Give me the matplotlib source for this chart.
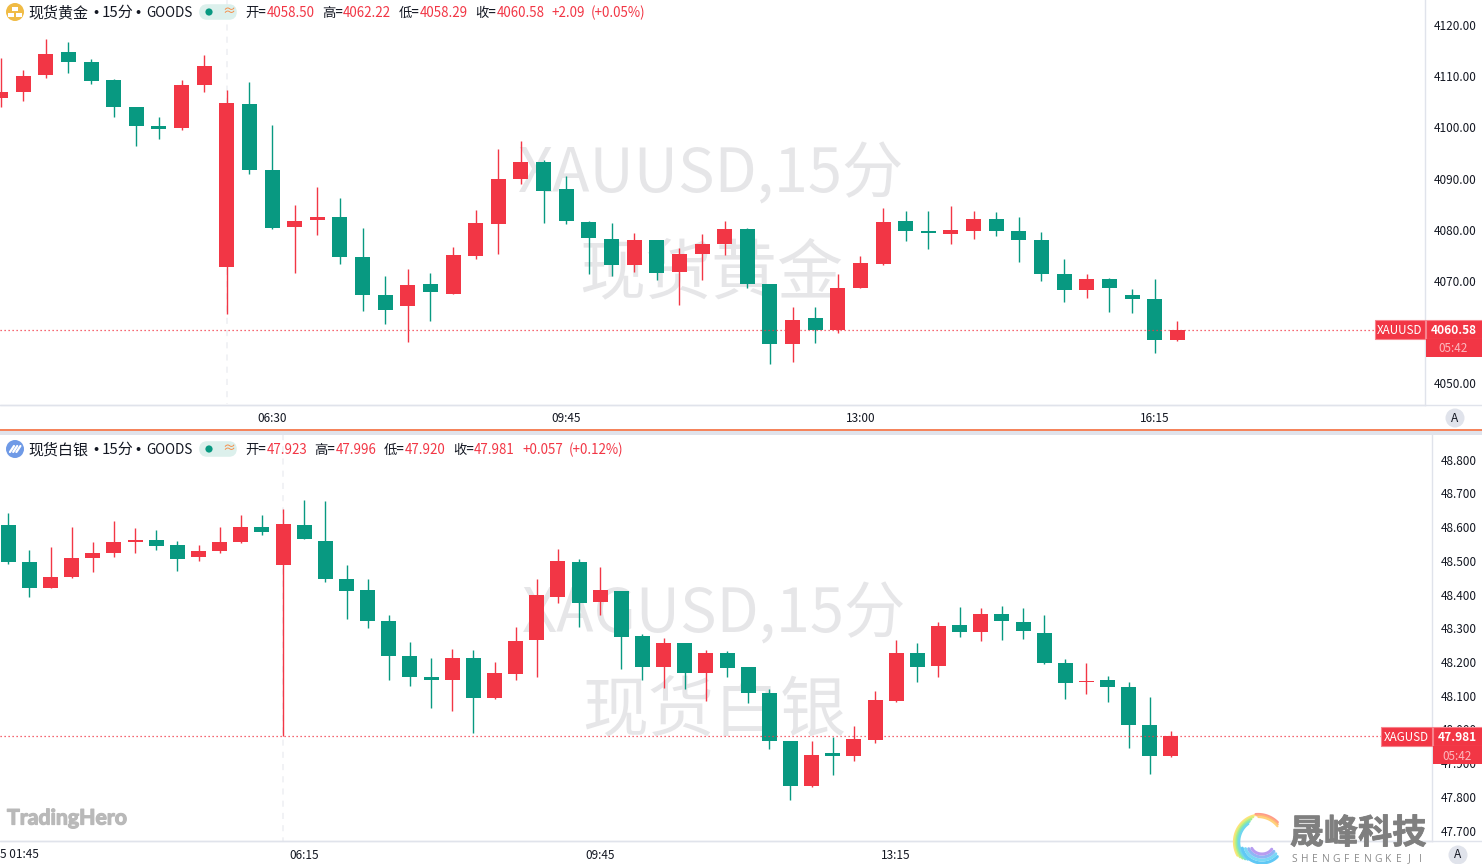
import numpy as np
import matplotlib
matplotlib.use("Agg")
import matplotlib.pyplot as plt
import matplotlib.patheffects as pe
from matplotlib.patches import Circle, FancyBboxPatch, Rectangle
from matplotlib.transforms import ScaledTranslation

plt.rcParams['font.family'] = ['Noto Sans CJK SC', 'DejaVu Sans']

gold_open = [4105.8,4107.0,4110.3,4114.8,4112.9,4109.3,4104.1,4100.4,4100.0,4108.4,4072.8,4104.7,4091.8,4080.6,
             4082.0,4082.6,4074.8,4067.4,4065.2,4069.5,4067.6,4075.0,4081.2,4090.0,4093.3,4088.1,4081.6,4078.3,
             4073.2,4078.1,4071.9,4075.4,4077.3,4080.2,4069.5,4057.8,4062.9,4060.5,4068.7,4073.4,4081.8,4079.9,
             4079.3,4079.9,4082.2,4079.9,4078.1,4071.5,4068.3,4070.5,4067.4,4066.6,4058.50]
gold_high = [4113.7,4111.3,4117.4,4116.8,4113.5,4109.5,4104.1,4102.1,4109.3,4114.2,4107.4,4109.0,4100.6,4084.9,
             4088.5,4086.3,4080.5,4071.1,4072.4,4071.7,4076.7,4084.0,4095.9,4097.4,4093.7,4090.6,4081.8,4081.4,
             4079.5,4078.1,4076.5,4079.3,4081.8,4080.5,4069.5,4065.0,4065.0,4071.5,4075.0,4084.4,4083.8,4083.8,
             4084.7,4083.8,4083.6,4082.6,4079.7,4074.4,4071.5,4070.7,4068.5,4070.5,4062.22]
gold_low = [4104.1,4105.3,4109.7,4110.7,4108.6,4102.1,4096.5,4097.8,4099.6,4107.0,4063.6,4091.0,4080.2,4071.7,
            4079.1,4073.4,4064.2,4061.7,4058.2,4062.3,4067.6,4074.4,4075.4,4089.0,4081.4,4081.2,4071.5,4071.1,
            4071.9,4070.3,4065.4,4070.3,4075.2,4068.7,4053.9,4054.3,4058.0,4059.9,4068.7,4073.2,4077.9,4076.4,
            4077.3,4078.3,4078.9,4073.8,4070.1,4066.0,4066.8,4064.0,4063.9,4056.0,4058.29]
gold_close = [4107.0,4110.1,4114.4,4112.9,4109.2,4104.1,4100.4,4099.8,4108.4,4112.1,4104.9,4091.8,4080.5,4081.8,
              4082.6,4074.8,4067.4,4064.4,4069.3,4068.0,4075.2,4081.4,4090.0,4093.3,4087.7,4081.8,4078.5,4073.2,
              4078.1,4071.7,4075.4,4077.3,4080.2,4069.5,4057.8,4062.5,4060.5,4068.7,4073.6,4081.6,4079.9,4079.5,
              4080.1,4082.2,4079.9,4078.1,4071.5,4068.3,4070.5,4068.7,4066.6,4058.6,4060.58]

silver_open = [48.607,48.498,48.421,48.453,48.509,48.524,48.557,48.563,48.548,48.512,48.530,48.557,48.601,48.489,
               48.607,48.560,48.447,48.415,48.323,48.219,48.157,48.148,48.213,48.095,48.166,48.267,48.394,48.498,
               48.379,48.412,48.278,48.186,48.258,48.169,48.228,48.186,48.109,47.967,47.834,47.932,47.923,47.970,
               48.086,48.228,48.190,48.311,48.291,48.344,48.320,48.288,48.199,48.143,48.148,48.127,48.015,47.923]
silver_high = [48.643,48.533,48.542,48.601,48.557,48.619,48.598,48.592,48.560,48.548,48.601,48.637,48.637,48.655,
               48.681,48.678,48.489,48.447,48.340,48.260,48.213,48.240,48.237,48.201,48.305,48.447,48.536,48.507,
               48.483,48.412,48.284,48.272,48.258,48.237,48.234,48.186,48.121,47.967,47.967,47.979,48.012,48.116,
               48.267,48.258,48.320,48.365,48.362,48.368,48.362,48.341,48.211,48.199,48.160,48.142,48.098,47.996]
silver_low = [48.492,48.394,48.421,48.450,48.468,48.512,48.524,48.533,48.471,48.500,48.524,48.554,48.578,47.981,
              48.566,48.438,48.329,48.302,48.148,48.130,48.065,48.056,47.991,48.092,48.148,48.157,48.376,48.305,
              48.341,48.181,48.148,48.124,48.121,48.086,48.157,48.080,47.943,47.792,47.831,47.867,47.908,47.961,
              48.083,48.142,48.157,48.276,48.264,48.267,48.270,48.196,48.092,48.107,48.083,47.947,47.870,47.920]
silver_close = [48.498,48.421,48.453,48.509,48.524,48.557,48.563,48.545,48.506,48.530,48.557,48.601,48.587,48.610,
                48.566,48.447,48.412,48.323,48.219,48.157,48.148,48.213,48.095,48.169,48.264,48.400,48.501,48.376,
                48.415,48.275,48.186,48.258,48.169,48.228,48.184,48.109,47.967,47.834,47.926,47.923,47.973,48.089,
                48.228,48.187,48.308,48.291,48.344,48.323,48.294,48.199,48.139,48.146,48.127,48.015,47.923,47.981]

gold_ticks = [4050, 4060, 4070, 4080, 4090, 4100, 4110, 4120]
gold_tick_labels = ['4050.00', '', '4070.00', '4080.00', '4090.00', '4100.00', '4110.00', '4120.00']
silver_ticks = [47.7, 47.8, 47.9, 48.0, 48.1, 48.2, 48.3, 48.4, 48.5, 48.6, 48.7, 48.8]
gold_time_index = [12, 25, 38, 51]
gold_time_labels = ['06:30', '09:45', '13:00', '16:15']
silver_time_index = [14, 28, 42]
silver_time_labels = ['06:15', '09:45', '13:15']

W, H = 1482, 864
RED, GREEN = '#f23645', '#089981'
AXC = '#e0e3eb'
TXT = '#131722'
fig = plt.figure(figsize=(W/100, H/100), dpi=100, facecolor='white')


def pane(left, right, top, bottom):
    ax = fig.add_axes([left/W, 1-bottom/H, (right-left)/W, (bottom-top)/H])
    for s in ('top', 'left'):
        ax.spines[s].set_visible(False)
    for s in ('right', 'bottom'):
        ax.spines[s].set_color(AXC)
        ax.spines[s].set_linewidth(1.0)
    ax.yaxis.tick_right()
    ax.tick_params(axis='both', length=0, labelsize=8.5, labelcolor=TXT)
    ax.tick_params(axis='y', pad=6.3)
    ax.tick_params(axis='x', pad=5.5)
    return ax


def candles(ax, o, h, l, c, width):
    o, h, l, c = map(np.array, (o, h, l, c))
    x = np.arange(len(o))
    col = np.where(c >= o, RED, GREEN)
    ax.vlines(x, l, h, colors=col, linewidth=1.0, zorder=3)
    ax.bar(x, np.abs(c-o), width, bottom=np.minimum(o, c), color=col, linewidth=0, zorder=4)


# upper pane
ax1 = pane(0, 1425, 0, 404.5)
ax1.set_xlim(-0.5/22.63, 1424.5/22.63)
ax1.set_ylim(4120-(404.5-25.5)/5.12, 4120+25.5/5.12)
candles(ax1, gold_open, gold_high, gold_low, gold_close, 15/22.63)
ax1.set_yticks(gold_ticks, gold_tick_labels)
ax1.set_xticks(gold_time_index, gold_time_labels)

# lower pane
ax2 = pane(0, 1432, 434, 841)
ax2.set_xlim(-8.3/21.14, (1432-8.3)/21.14)
ax2.set_ylim(48.8-(841-460)/337.3, 48.8+(460-434)/337.3)
candles(ax2, silver_open, silver_high, silver_low, silver_close, 15/21.14)
ax2.set_yticks(silver_ticks, [f'{v:.3f}' for v in silver_ticks])
ax2.set_xticks(silver_time_index, silver_time_labels)
up1 = ScaledTranslation(0, 0.4/100, fig.dpi_scale_trans)
for a in (ax1, ax2):
    for lb in a.get_yticklabels():
        lb.set_transform(lb.get_transform() + up1)

# pixel overlay for chart furniture
ov = fig.add_axes([0, 0, 1, 1], facecolor='none')
ov.set_xlim(0, W)
ov.set_ylim(H, 0)
ov.axis('off')

WM = '#e6e6e8'
ax1.text(711, 175, 'XAUUSD,15分', transform=ov.transData, fontsize=44.2, color=WM, ha='center', va='center', zorder=1, clip_on=False)
ax1.text(711, 275, '现货黄金', transform=ov.transData, fontsize=47.5, color=WM, ha='center', va='center', zorder=1, clip_on=False)
ax2.text(714, 615, 'XAGUSD,15分', transform=ov.transData, fontsize=44.2, color=WM, ha='center', va='center', zorder=1, clip_on=False)
ax2.text(714, 712, '现货白银', transform=ov.transData, fontsize=47.5, color=WM, ha='center', va='center', zorder=1, clip_on=False)

# crosshair dashes and last-price lines sit with the panes
ax1.vlines(227, 0, 404, transform=ov.transData, color='#eeeff2', lw=1.1, linestyles=(0, (4, 4)), zorder=2)
ax2.vlines(283, 434, 841, transform=ov.transData, color='#eeeff2', lw=1.1, linestyles=(0, (4, 4)), zorder=2)
ax1.axhline(gold_close[-1], color=RED, lw=0.9, linestyle=(0, (1, 2.2)), zorder=5)
ax2.axhline(silver_close[-1], color=RED, lw=0.9, linestyle=(0, (1, 2.2)), zorder=5)

# dividers
ov.add_patch(Rectangle((0, 431), W, 3.5, color=AXC, lw=0))
ov.add_patch(Rectangle((0, 429), W, 1.6, color='#f5845c', lw=0))
ov.hlines([404.5, 841], 0, W, color=AXC, lw=1.0)


def lab(x, y, s, col=TXT, fs=10.0, **kw):
    ov.text(x, y, s, color=col, fontsize=fs, va='center', **kw)


def header(y, icon, name, items):
    ov.add_patch(Circle((15, y), 9, color=icon, lw=0))
    ty = y + 1
    lab(28, ty, name, fs=10.8)
    lab(95.5, ty, '·', fs=10.8, fontweight='bold', ha='center')
    lab(102, ty, '15分', fs=10.8)
    lab(138, ty, '·', fs=10.8, fontweight='bold', ha='center')
    lab(146, ty, 'GOODS', fs=9.7)
    ov.add_patch(FancyBboxPatch((202, y-5), 32, 10, boxstyle='round,pad=0,rounding_size=5',
                                mutation_aspect=1, lw=4, ec='#dcf0ec', fc='#dcf0ec'))
    ov.add_patch(Circle((209, y), 3.6, color=GREEN, lw=0))
    lab(228.5, y, '≈', '#f7883f', 9.5, ha='center')
    for x, s, c in items:
        lab(x, ty, s, c, 9.6)


header(12, '#f0bb45', '现货黄金',
       [(245, '开=', TXT), (267, '4058.50', RED), (322, '高=', TXT), (343, '4062.22', RED),
        (398.5, '低=', TXT), (420, '4058.29', RED), (475.5, '收=', TXT), (496.5, '4060.58', RED),
        (551, '+2.09', RED), (591, '(+0.05%)', RED)])
header(449, '#6f9ae6', '现货白银',
       [(245, '开=', TXT), (267, '47.923', RED), (314, '高=', TXT), (335.5, '47.996', RED),
        (384, '低=', TXT), (404.5, '47.920', RED), (453, '收=', TXT), (474, '47.981', RED),
        (522, '+0.057', RED), (569, '(+0.12%)', RED)])
# icon glyphs
for cx, cy in [(15, 8.5), (11, 14.5), (19, 14.5)]:
    ov.add_patch(Rectangle((cx-3, cy-2), 6, 4, color='white', lw=0))
for k in range(3):
    ov.plot([10+k*3.2, 14+k*3.2], [452, 446], color='white', lw=1.6, solid_capstyle='round')

# price tags


def tags(y0, left, sep, name, price):
    ov.add_patch(Rectangle((left, y0), sep-left, 19, fc=RED, ec='#f7838d', lw=0.8))
    ov.add_patch(Rectangle((sep+1, y0), W-sep, 19, fc=RED, ec='#f7838d', lw=0.8))
    ov.add_patch(Rectangle((sep+1, y0+19), W-sep, 18, fc=RED, lw=0))
    lab((left+sep)/2, y0+10.5, name, 'white', 8.4, ha='center')
    lab((sep+1+W)/2-0.5, y0+10.5, price, 'white', 8.6, ha='center', fontweight='bold')
    lab((sep+1+W)/2-0.5, y0+29, '05:42', '#fbb9bf', 8.4, ha='center')


tags(320, 1375, 1425, 'XAUUSD', '4060.58')
tags(727, 1381, 1432, 'XAGUSD', '47.981')

# auto-scale buttons
for cx, cy in [(1455, 418), (1458, 855)]:
    ov.add_patch(Circle((cx, cy), 9.5, color=AXC, lw=0))
    lab(cx, cy, 'A', TXT, 8.6, ha='center')

# clipped first date on the time scale
lab(0, 855, '5 01:45', TXT, 8.5)

# marks
ov.text(7, 818.5, 'TradingHero', color='#b9b9b9', fontsize=15.3, va='center', family='Lato', fontweight='bold',
        path_effects=[pe.withStroke(linewidth=0.9, foreground='#b9b9b9')])
ov.text(1358, 833, '晟峰科技', color='#7f7f7f', fontsize=24.6, ha='center', va='center', fontweight='bold',
        path_effects=[pe.withStroke(linewidth=0.6, foreground='#7f7f7f')])
for lx, ch in zip(np.linspace(1294, 1420, 13), 'SHENGFENGKEJI'):
    ov.text(lx, 859, ch, color='#8c8c8c', fontsize=7.4, ha='center', va='center', family='Open Sans')
swirl = ['#ffe27a', '#d8ee7c', '#a6ec8e', '#7fe3c0', '#6fd6ee']
t = np.linspace(0, 1, 40)
for k, c in enumerate(swirl):
    r = 26 - k*1.3
    a = np.radians(100 + 110*t + k*6)
    ov.plot(1260 + r*np.cos(a), 842 - r*np.sin(a)*1.05, color=c, lw=1.6, solid_capstyle='round')
for k, c in enumerate(['#ff9a8a', '#ffb37a', '#ffd27a']):
    a = np.radians(45 + 50*t - k*3)
    ov.plot(1258 + (28-k*1.5)*np.cos(a), 842 - (28-k*1.5)*np.sin(a), color=c, lw=1.6, solid_capstyle='round')
for k, c in enumerate(['#60c8f5', '#7ad8f5', '#8fb6f5', '#b79cf0']):
    a = np.radians(190 + 130*t + k*4)
    ov.plot(1262 + (20-k*3)*np.cos(a), 845 - (18-k*3)*np.sin(a), color=c, lw=2.2, solid_capstyle='round')

fig.savefig('out.png', dpi=100, facecolor='white')
